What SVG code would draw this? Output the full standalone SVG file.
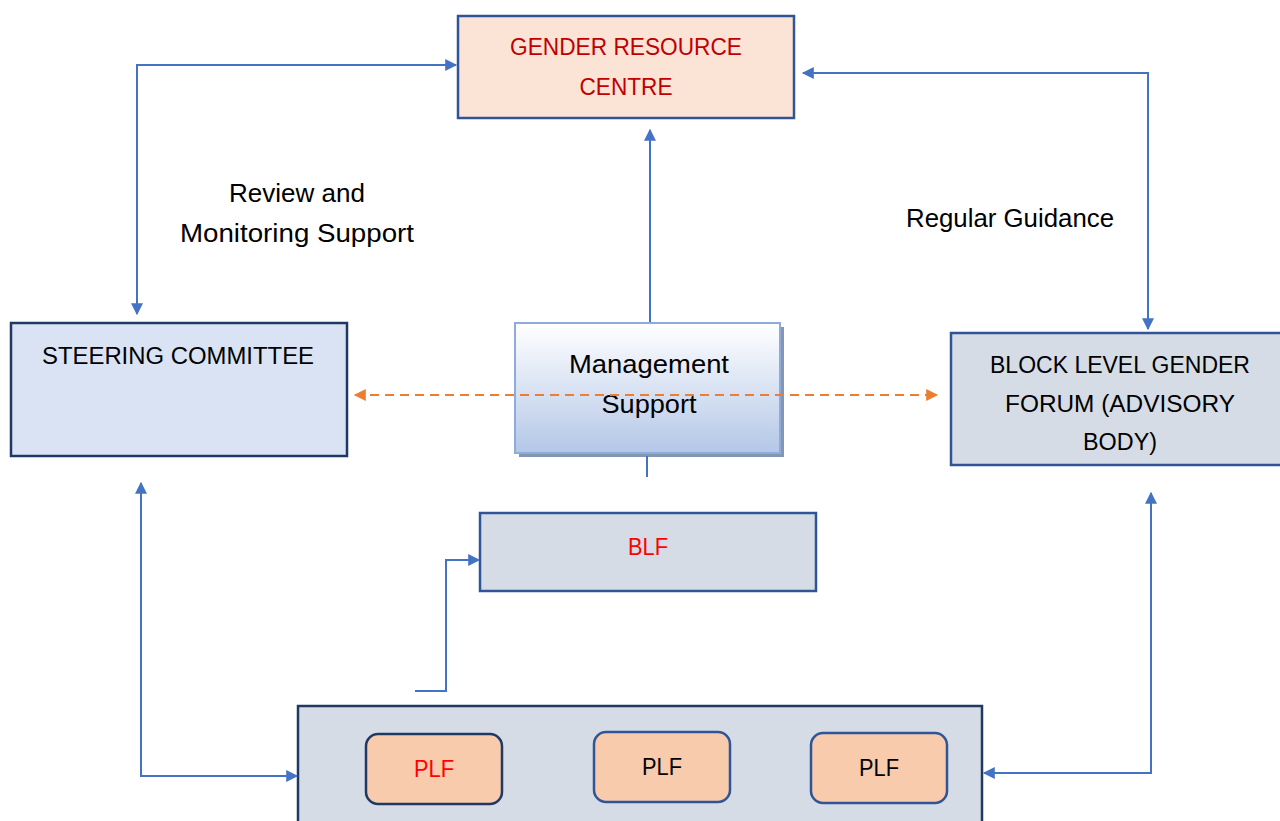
<svg xmlns="http://www.w3.org/2000/svg" width="1280" height="821" viewBox="0 0 1280 821">
<defs>
<marker id="ab" viewBox="0 0 10 10" refX="9" refY="5" markerWidth="13" markerHeight="12" markerUnits="userSpaceOnUse" orient="auto-start-reverse"><path d="M0,0 L10,5 L0,10 z" fill="#4472c4"/></marker>
<marker id="ao" viewBox="0 0 10 10" refX="9" refY="5" markerWidth="13" markerHeight="12" markerUnits="userSpaceOnUse" orient="auto-start-reverse"><path d="M0,0 L10,5 L0,10 z" fill="#ed7d31"/></marker>
<linearGradient id="mg" x1="0" y1="0" x2="0" y2="1"><stop offset="0" stop-color="#ffffff"/><stop offset="1" stop-color="#b4c7e7"/></linearGradient>
<style>
text{font-family:"Liberation Sans",Arial,sans-serif;font-size:23px;text-anchor:middle;fill:#000}
.m{font-size:25px}
.c{fill:none;stroke:#4472c4;stroke-width:2}
.box{stroke-width:2.5}
</style>
</defs>
<rect width="1280" height="821" fill="#fff"/>
<g id="grc">
<rect class="box" x="458" y="16" width="336" height="102" fill="#fbe3d6" stroke="#2f5597"/>
<text x="626" y="55" textLength="232" lengthAdjust="spacingAndGlyphs" style="fill:#c00000">GENDER RESOURCE</text>
<text x="626" y="95" textLength="93" lengthAdjust="spacingAndGlyphs" style="fill:#c00000">CENTRE</text>
</g>
<g id="steering">
<rect class="box" x="11" y="323" width="336" height="133" fill="#dae3f3" stroke="#203864"/>
<text x="178" y="364" textLength="272" lengthAdjust="spacingAndGlyphs">STEERING COMMITTEE</text>
</g>
<g id="blgf">
<rect class="box" x="951" y="333" width="340" height="132" fill="#d6dce5" stroke="#2f5597"/>
<text x="1120" y="373" textLength="260" lengthAdjust="spacingAndGlyphs">BLOCK LEVEL GENDER</text>
<text x="1120" y="412" textLength="230" lengthAdjust="spacingAndGlyphs">FORUM (ADVISORY</text>
<text x="1120" y="450" textLength="74" lengthAdjust="spacingAndGlyphs">BODY)</text>
</g>
<g id="mgmt">
<rect x="519" y="327" width="265" height="130" fill="#8497b0"/>
<rect x="515" y="323" width="265" height="130" fill="url(#mg)" stroke="#8faadc" stroke-width="2"/>
<text class="m" x="649" y="373" textLength="160" lengthAdjust="spacingAndGlyphs">Management</text>
<text class="m" x="649" y="413" textLength="95" lengthAdjust="spacingAndGlyphs">Support</text>
</g>
<g id="blf">
<rect class="box" x="480" y="513" width="336" height="78" fill="#d6dce5" stroke="#2f5597"/>
<text x="648" y="555" textLength="40" lengthAdjust="spacingAndGlyphs" style="fill:#ff0000">BLF</text>
</g>
<g id="plf-group">
<rect class="box" x="298" y="706" width="684" height="130" fill="#d6dce5" stroke="#203864"/>
</g>
<g id="plf1">
<rect x="366" y="734" width="136" height="70" rx="12" fill="#f8cbad" stroke="#203864" stroke-width="2.5"/>
<text x="434" y="777" textLength="40" lengthAdjust="spacingAndGlyphs" style="fill:#ff0000">PLF</text>
</g>
<g id="plf2">
<rect x="594" y="732" width="136" height="70" rx="12" fill="#f8cbad" stroke="#2f5597" stroke-width="2.5"/>
<text x="662" y="775" textLength="40" lengthAdjust="spacingAndGlyphs">PLF</text>
</g>
<g id="plf3">
<rect x="811" y="733" width="136" height="70" rx="12" fill="#f8cbad" stroke="#2f5597" stroke-width="2.5"/>
<text x="879" y="776" textLength="40" lengthAdjust="spacingAndGlyphs">PLF</text>
</g>
<g id="labels">
<text class="m" x="297" y="202" textLength="136" lengthAdjust="spacingAndGlyphs">Review and</text>
<text class="m" x="297" y="242" textLength="234" lengthAdjust="spacingAndGlyphs">Monitoring Support</text>
<text class="m" x="1010" y="227" textLength="208" lengthAdjust="spacingAndGlyphs">Regular Guidance</text>
</g>
<g id="connectors">
<path class="c" d="M137,314 V65 H456" marker-start="url(#ab)" marker-end="url(#ab)"/>
<path class="c" d="M803,73 H1148 V329" marker-start="url(#ab)" marker-end="url(#ab)"/>
<path class="c" d="M650,322 V130" marker-end="url(#ab)"/>
<path class="c" d="M647,456 V477"/>
<path d="M355,395 H937" fill="none" stroke="#ed7d31" stroke-width="2" stroke-dasharray="9,6" marker-start="url(#ao)" marker-end="url(#ao)"/>
<path class="c" d="M415,691 H446 V560 H479" marker-end="url(#ab)"/>
<path class="c" d="M141,483 V776 H297" marker-start="url(#ab)" marker-end="url(#ab)"/>
<path class="c" d="M1151,493 V773 H984" marker-start="url(#ab)" marker-end="url(#ab)"/>
</g>
</svg>
